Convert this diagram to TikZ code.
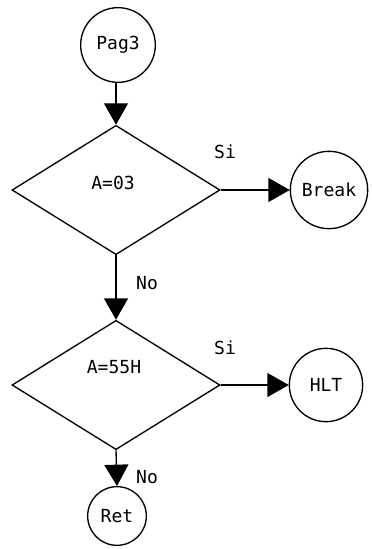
\documentclass[tikz,border=0pt]{standalone}
\usepackage{fontspec}
\setmainfont{DejaVu Sans Mono}
\usetikzlibrary{shapes.geometric,arrows.meta}
\begin{document}
\begin{tikzpicture}[x=0.75pt,y=-0.75pt,
  line width=1pt,
  font=\fontsize{13.5}{16}\selectfont,
  term/.style={draw,circle,inner sep=0pt},
  decision/.style={draw,diamond,inner sep=0pt,minimum width=156pt,minimum height=97pt},
  flow/.style={-{Triangle[length=16pt,width=18pt]}},
  lbl/.style={inner sep=0pt}]
\useasboundingbox (0,0) rectangle (371,549);
\node[term,minimum size=56pt] (pag) at (118,45) {Pag3};
\node[decision] (d1) at (116,190) {};
\node[lbl] (t1) at (113,183) {A=03};
\node[term,minimum size=58pt] (brk) at (329,190) {Break};
\node[decision] (d2) at (116,385) {};
\node[lbl] (t2) at (114,367) {A=55H};
\node[term,minimum size=55pt] (hlt) at (326,385) {HLT};
\node[term,minimum size=44pt] (ret) at (117,516) {Ret};
\node[lbl] (si1) at (225,152) {Si};
\node[lbl] (no1) at (147,283) {No};
\node[lbl] (si2) at (225,348) {Si};
\node[lbl] (no2) at (147,477) {No};
\draw[flow] (pag.south -| d1.north) -- (d1.north);
\draw[flow] (d1.east) -- (brk.west);
\draw[flow] (d1.south) -- (d2.north);
\draw[flow] (d2.east) -- (hlt.west);
\draw[flow] (d2.south) -- (ret.north);
\end{tikzpicture}
\end{document}
